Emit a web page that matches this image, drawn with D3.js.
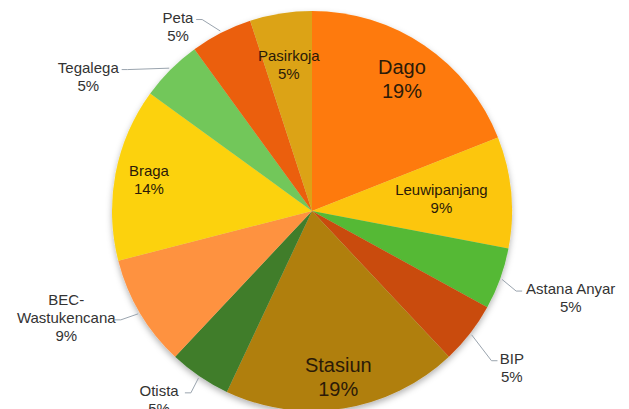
<!DOCTYPE html>
<html><head><meta charset="utf-8">
<script src="https://cdn.jsdelivr.net/npm/d3@7"></script>
<style>body{margin:0;background:#fff}svg{display:block}</style>
</head><body>
<svg id="c" width="629" height="409"></svg>
<script>
const categories = ["Dago","Leuwipanjang","Astana Anyar","BIP","Stasiun","Otista","BEC-\nWastukencana","Braga","Tegalega","Peta","Pasirkoja"];
const values = [19,9,5,5,19,5,9,14,5,5,5];
const colors = ["#FE7A0A","#FCC60A","#55B935","#C94B0E","#B07F10","#3F7D2A","#FE9240","#FCD20A","#72C75A","#EB5F0E","#DCA316"];
// label layout: inside (radius factor) or outside (angle deg, distance)
const labelLayout = [
  {inside:true, rf:0.80, big:true},
  {inside:true, rf:0.65},
  {inside:false, ang:108.6, dist:273},
  {inside:false, ang:128.1, dist:254},
  {inside:true, rf:0.84, big:true},
  {inside:false, ang:219, dist:243},
  {inside:false, ang:246.5, dist:268},
  {inside:true, rf:0.83},
  {inside:false, ang:301, dist:261},
  {inside:false, ang:324, dist:228},
  {inside:true, rf:0.74}
];

const svg = d3.select("#c");
const cx = 312, cy = 211, R = 200;
const defs = svg.append("defs");
const f = defs.append("filter").attr("id","sh").attr("x","-20%").attr("y","-20%").attr("width","140%").attr("height","140%");
f.append("feDropShadow").attr("dx",0).attr("dy",3).attr("stdDeviation",3).attr("flood-color","#000").attr("flood-opacity",0.3);

const data = categories.map((c,i)=>({name:c,value:values[i],color:colors[i],lay:labelLayout[i]}));
const pie = d3.pie().value(d=>d.value).sort(null);
const arcs = pie(data);
const arc = d3.arc().innerRadius(0).outerRadius(R);
const g = svg.append("g").attr("transform",`translate(${cx},${cy})`);
g.append("g").attr("filter","url(#sh)").selectAll("path").data(arcs).join("path")
  .attr("d",arc).attr("fill",d=>d.data.color);

const font = "'Liberation Sans', Arial, Helvetica, sans-serif";
function pol(angDeg, r){const a=angDeg*Math.PI/180;return [Math.sin(a)*r,-Math.cos(a)*r];}

arcs.forEach(a=>{
  const L = a.data.lay;
  const mid = (a.startAngle+a.endAngle)/2*180/Math.PI;
  const pct = Math.round(a.value/d3.sum(values)*100)+"%";
  const lines = a.data.name.split("\n").concat([pct]);
  let x,y,fs,col,lh;
  if(L.inside){
    const ang = L.ang!==undefined?L.ang:mid;
    [x,y]=pol(ang,R*L.rf);
    fs = L.big?20:15; lh = L.big?24:18; col="#2b1a08";
  } else {
    [x,y]=pol(L.ang,L.dist);
    fs=15; lh=18; col="#333";
    const p0 = pol(mid,R+2);
    const n = lines.length;
    const ty = y - (n-1)*lh/2 + (n>2?lh:0);
    const tw = (n>2?lines[1]:lines[0]).length*7.6;
    const side = x>p0[0]? -1 : 1;
    const ex = x + side*(tw/2+3);
    const ey = ty+2;
    g.append("path").attr("d",`M${p0[0]},${p0[1]}L${ex+side*6},${ey}L${ex},${ey}`)
      .attr("fill","none").attr("stroke","#9aa4ae").attr("stroke-width",1);
  }
  const t = g.append("text").attr("text-anchor","middle").attr("font-family",font)
    .attr("font-size",fs).attr("fill",col);
  const n = lines.length;
  lines.forEach((s,i)=>{
    t.append("tspan").attr("x",x).attr("y",y-(n-1)*lh/2+i*lh+fs*0.35).text(s);
  });
});
</script>
</body></html>
